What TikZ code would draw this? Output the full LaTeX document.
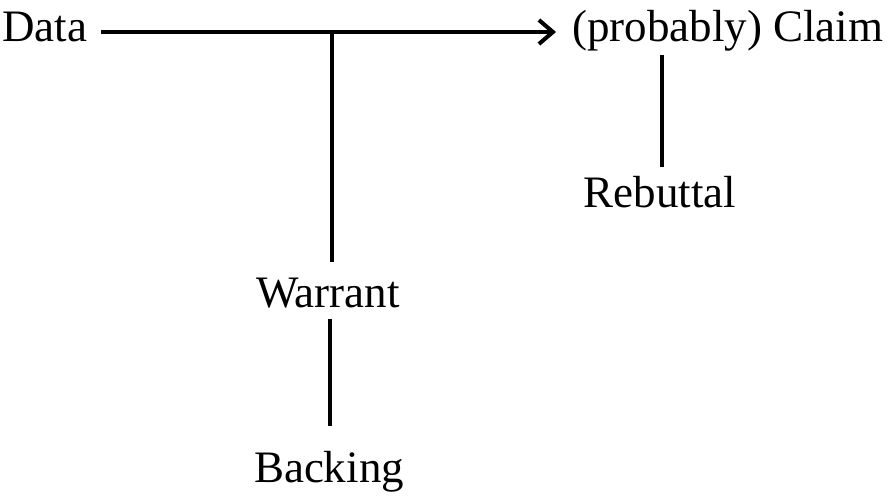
\documentclass[tikz,border=0pt]{standalone}
\usepackage{fontspec}
\setmainfont{Liberation Serif}
\usetikzlibrary{arrows.meta}
\begin{document}
\begin{tikzpicture}[x=1pt,y=1pt,
  lbl/.style={inner sep=0pt,font=\fontsize{45}{54}\selectfont},
  conn/.style={line width=3.5pt}]
\useasboundingbox (0,0) rectangle (888,-500);
\node[lbl,anchor=base west] (data) at (2,-42) {Data};
\node[lbl,anchor=base west] (claim) at (572,-42) {(probably) Claim};
\node[lbl,anchor=base] (warrant) at (328,-307) {Warrant};
\node[lbl,anchor=base] (backing) at (329,-482) {Backing};
\node[lbl,anchor=base] (rebuttal) at (660,-207) {Rebuttal};
\coordinate (dstart) at ([xshift=14pt,yshift=10pt]data.base east);
\coordinate (ctip) at ([xshift=-16pt,yshift=10pt]claim.base west);
\coordinate (j) at (332,-32);
\draw[conn,-{Straight Barb[length=14pt,width=24pt,line width=4pt]}] (dstart) -- (ctip);
\draw[conn] (j) -- ([yshift=15pt]j |- warrant.north);
\coordinate (wb1) at ([yshift=-11pt]warrant.south);
\draw[conn] ([xshift=2pt]wb1) -- ([xshift=1pt,yshift=25pt]backing.north);
\coordinate (rtop) at ([xshift=2pt,yshift=-3pt]rebuttal.north |- claim.south);
\draw[conn] (rtop) -- ([xshift=2pt,yshift=9pt]rebuttal.north);
\end{tikzpicture}
\end{document}
